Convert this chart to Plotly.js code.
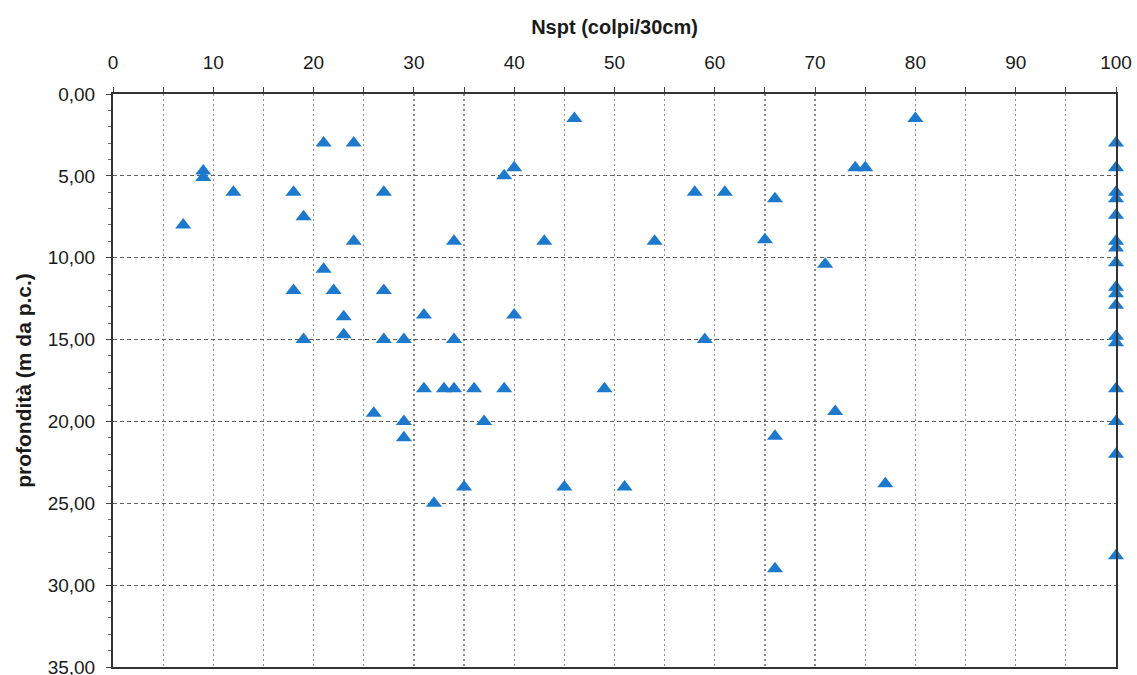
<!DOCTYPE html>
<html>
<head>
<meta charset="utf-8">
<script src="https://cdn.plot.ly/plotly-3.0.1.min.js"></script>
<style>
html,body{margin:0;padding:0;background:#fff;}
#chart{width:1137px;height:675px;}
</style>
</head>
<body>
<div id="chart"></div>
<script>
// Nspt values (colpi/30cm)
const nspt = [46, 80, 21, 24, 9, 9, 12, 18, 27, 7, 19, 24, 39, 40, 58, 61, 66, 74, 75,
  34, 43, 54, 65, 71, 21, 18, 22, 27, 23, 23, 19, 27, 29, 31, 40, 34, 59,
  31, 33, 34, 36, 39, 49, 26, 29, 29, 37, 66, 72, 77, 35, 45, 51, 32, 66,
  100, 100, 100, 100, 100, 100, 100, 100, 100, 100, 100, 100, 100, 100, 100, 100, 100];
// depth (m da p.c.)
const depth = [1.5, 1.5, 3, 3, 4.7, 5.1, 6, 6, 6, 8, 7.5, 9, 5, 4.5, 6, 6, 6.4, 4.5, 4.5,
  9, 9, 9, 8.9, 10.4, 10.7, 12, 12, 12, 13.6, 14.7, 15, 15, 15, 13.5, 13.5, 15, 15,
  18, 18, 18, 18, 18, 18, 19.5, 20, 21, 20, 20.9, 19.4, 23.8, 24, 24, 24, 25, 29,
  3, 4.5, 6, 6.4, 7.4, 9, 9.4, 10.3, 11.8, 12.2, 12.9, 14.8, 15.2, 18, 20, 22, 28.2];

const xTitle = 'Nspt (colpi/30cm)';
const yTitle = 'profondità (m da p.c.)';

const trace = {
  type: 'scatter',
  mode: 'markers',
  x: nspt,
  y: depth,
  marker: {symbol: 'triangle-up', size: 14, color: '#1C79CC', line: {width: 0}},
  hoverinfo: 'x+y',
  cliponaxis: false
};

const font = {family: '"Liberation Sans", Arial, sans-serif', color: '#1a1a1a'};

const layout = {
  width: 1137, height: 675,
  margin: {l: 113, r: 21, t: 94, b: 8, pad: 0},
  paper_bgcolor: '#fff', plot_bgcolor: '#fff',
  separators: ',.',
  showlegend: false,
  font: font,
  xaxis: {
    side: 'top',
    range: [0, 100],
    dtick: 10, tick0: 0,
    showgrid: true, gridcolor: '#8c8c8c', griddash: '2px,3px', gridwidth: 1.2,
    showline: true, linecolor: '#333', linewidth: 2, mirror: true,
    ticks: 'outside', ticklen: 5, tickcolor: '#444', tickwidth: 1,
    ticklabelstandoff: 10,
    ticklabeloverflow: 'allow',
    tickfont: {family: font.family, size: 19, color: '#1a1a1a'},
    minor: {dtick: 5, showgrid: true, gridcolor: '#8c8c8c', griddash: '2px,3px', gridwidth: 1.2,
            ticks: 'outside', ticklen: 5, tickcolor: '#444'},
    zeroline: false,
    automargin: false,
    fixedrange: true,
    title: {text: '<b>' + xTitle + '</b>', font: {family: font.family, size: 20, color: '#1a1a1a'}, standoff: 12}
  },
  yaxis: {
    range: [35, 0],
    dtick: 5, tick0: 0,
    tickformat: '.2f',
    showgrid: true, gridcolor: '#606060', griddash: '4px,3px', gridwidth: 1.2,
    showline: true, linecolor: '#333', linewidth: 2, mirror: true,
    ticks: 'outside', ticklen: 5, tickcolor: '#444', tickwidth: 1,
    ticklabelstandoff: 7,
    ticklabeloverflow: 'allow',
    tickfont: {family: font.family, size: 19, color: '#1a1a1a'},
    minor: {dtick: 1, ticks: 'outside', ticklen: 3, tickcolor: '#666', showgrid: false},
    zeroline: false,
    automargin: false,
    fixedrange: true,
    title: {text: '<b>' + yTitle + '</b>', font: {family: font.family, size: 21, color: '#1a1a1a'}, standoff: 10}
  }
};

Plotly.newPlot('chart', [trace], layout, {displayModeBar: false, staticPlot: true});
</script>
</body>
</html>
